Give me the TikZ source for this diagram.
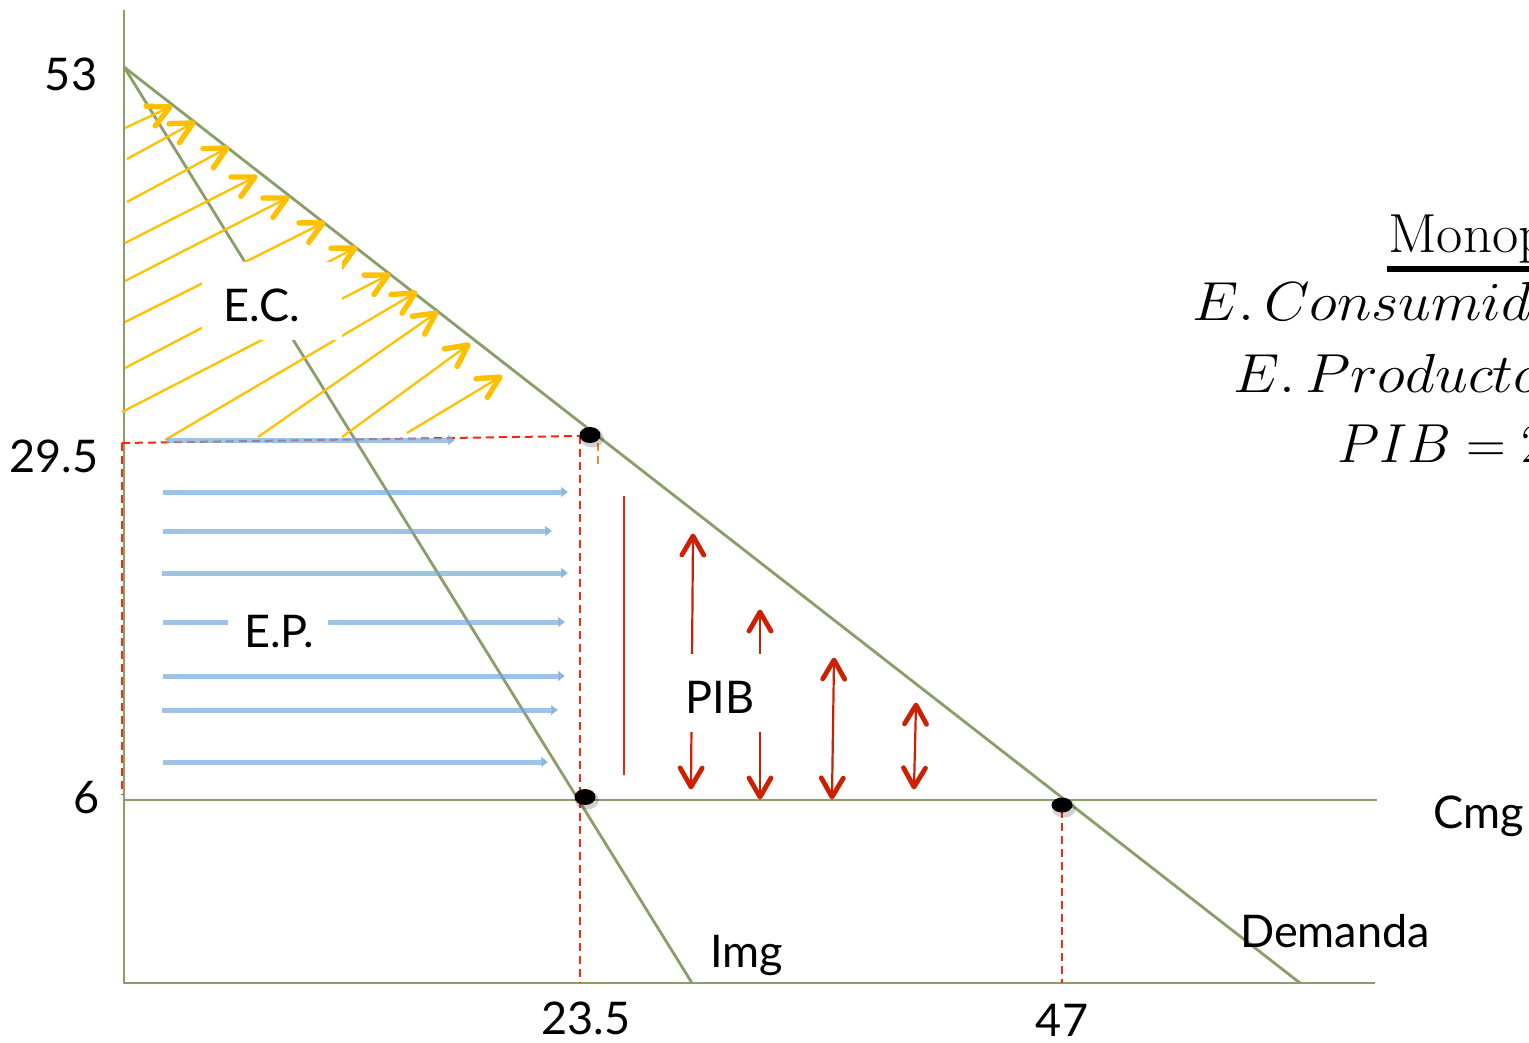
\documentclass[tikz,border=0pt]{standalone}
\usepackage{fix-cm}
\usepackage[no-math]{fontspec}
\newfontfamily\gillfont{Lato}
\usetikzlibrary{arrows.meta,shapes.geometric,calc}
\definecolor{axisgreen}{RGB}{138,158,104}
\definecolor{hatchyellow}{RGB}{255,192,0}
\definecolor{epblue}{RGB}{115,169,219}
\definecolor{guidered}{RGB}{255,40,10}
\definecolor{pibred}{RGB}{204,32,0}
\definecolor{solidred}{RGB}{232,40,20}
\definecolor{tickorange}{RGB}{240,140,40}
\begin{document}
\begin{tikzpicture}[x=1pt,y=-1pt,
  curve/.style={draw=axisgreen,line width=2.8pt},
  guide/.style={draw=guidered,line width=2pt,dash pattern=on 8pt off 5pt},
  hatchline/.style={draw=hatchyellow,line width=2.3pt,shorten >=2pt},
  hatchtip/.style={draw=hatchyellow,line width=5.4pt,line cap=round,line join=round},
  eparrow/.style={draw=epblue,opacity=0.7,line width=5pt,-{Triangle[length=7pt,width=10pt]}},
  pibline/.style={draw=pibred,line width=2.2pt,shorten >=2pt,shorten <=2pt},
  pibtip/.style={draw=pibred,line width=4.8pt,line cap=round,line join=round},
  cover/.style={fill=white,inner sep=0pt,draw=none},
  lab/.style={font={\gillfont\fontsize{45}{54}\selectfont},inner sep=0pt,anchor=base},
  numlab/.style={font={\gillfont\fontsize{45}{54}\selectfont},inner sep=0pt,anchor=base},
  mathlab/.style={font={\fontsize{55}{66}\selectfont},inner sep=0pt,anchor=base west},
  eqdot/.style={ellipse,fill=black,inner sep=0pt,minimum width=21pt,minimum height=16pt},
  dotshadow/.style={ellipse,fill=black,opacity=0.18,inner sep=0pt,minimum width=24pt,minimum height=19pt},
]
\useasboundingbox (0,0) rectangle (1529,1043);
\clip (0,0) rectangle (1529,1043);

% key points
\coordinate (O) at (124,983);
\coordinate (Ytop) at (124,10);
\coordinate (Xend) at (1375,983);
\coordinate (A) at (124,67);
\coordinate (Dend) at (1300,983);
\coordinate (Iend) at (692,983);
\coordinate (C0) at (124,800);
\coordinate (Cend) at (1377,800);
\coordinate (G1) at (122,443);
\coordinate (G2) at (580,436);
\coordinate (G3) at (122,795);
\coordinate (G4) at (580,983);
\coordinate (G5) at (1062,810);
\coordinate (G6) at (1062,983);
\coordinate (T1) at (598,443);
\coordinate (T2) at (598,466);
\coordinate (R1) at (624,496);
\coordinate (R2) at (624,775);

% curves and axes
\draw[curve] (Ytop) -- (O) -- (Xend);
\draw[curve] (C0) -- (Cend);
\draw[curve] (A) -- (Dend);
\draw[curve] (A) -- (Iend);

% guides
\draw[guide] (G1) -- (G2);
\draw[guide] (G1) -- (G3);
\draw[guide] (G2) -- (G4);
\draw[guide] (G5) -- (G6);
\draw[draw=tickorange,line width=1.8pt,dash pattern=on 8pt off 5pt] (T1) -- (T2);
\draw[draw=solidred,line width=2.4pt] (R1) -- (R2);

% consumer surplus hatch
\foreach \ax/\ay/\bx/\by in {125/128/170/107, 127/159/193/123, 127/202/227/148,
  125/243/255/177, 125/281/287/198, 125/322/323/223, 125/368/355/248,
  122/412/388/275, 165/440/415/293, 258/437/436/313, 342/437/468/345, 407/433/500/377}
{
  \draw[hatchline] (\ax,\ay) -- (\bx,\by);
  \draw[hatchtip] ($(\bx,\by)!24pt!27:(\ax,\ay)$) -- (\bx,\by) -- ($(\bx,\by)!24pt!-27:(\ax,\ay)$);
}

% producer surplus arrows
\foreach \ax/\bx/\yy in {167/455/440, 163/568/492, 163/552/531, 162/568/573,
  163/565/622, 163/565/676, 162/558/710, 163/548/762}
  \draw[eparrow] (\ax,\yy) -- (\bx,\yy);

% PIB arrows
\foreach \ax/\ay/\bx/\by in {691/787/693/536, 760/797/760/612, 832/797/834/660, 914/787/916/705}
{
  \draw[pibline] (\ax,\ay) -- (\bx,\by);
  \draw[pibtip] ($(\bx,\by)!22pt!30:(\ax,\ay)$) -- (\bx,\by) -- ($(\bx,\by)!22pt!-30:(\ax,\ay)$);
  \draw[pibtip] ($(\ax,\ay)!22pt!30:(\bx,\by)$) -- (\ax,\ay) -- ($(\ax,\ay)!22pt!-30:(\bx,\by)$);
}

% label backgrounds
\node[cover,minimum width=140pt,minimum height=78pt] (ecbox) at (272,301) {};
\node[cover,minimum width=100pt,minimum height=56pt] (epbox) at (278,624) {};
\node[cover,minimum width=110pt,minimum height=78pt] (pibbox) at (720,693) {};

% labels
\node[lab] (ec) at (262,321) {E.C.};
\node[lab] (ep) at (279,647) {E.P.};
\node[lab] (pib) at (720,713) {PIB};
\node[lab] (img) at (747,967) {Img};
\node[lab] (dem) at (1335,947) {Demanda};
\node[lab] (cmg) at (1479,828) {Cmg};
\node[numlab] (n53) at (71,91) {53};
\node[numlab] (n295) at (54,472) {29.5};
\node[numlab] (n6) at (87,813) {6};
\node[numlab] (n235) at (586,1034) {23.5};
\node[numlab] (n47) at (1062,1036) {47};

% right-hand text (cut by the frame)
\node[mathlab] (mono) at (1388,253) {\scalebox{1.04}[1]{$\mathrm{Monopolio}$}};
\draw[line width=5.5pt] (1387,269) -- (1545,269);
\node[mathlab] (econs) at (1192,320) {\scalebox{1.07}[1]{$E.\,Consumidor$}};
\node[mathlab] (eprod) at (1233,392) {\scalebox{1.07}[1]{$E.\,Productor$}};
\node[mathlab] (pibeq) at (1337,462) {$PIB=2$};

% equilibrium points
\node[dotshadow] at (592,438) {};
\node[eqdot] (m1) at (590,435) {};
\node[dotshadow] at (587,800) {};
\node[eqdot] (m2) at (585,797) {};
\node[dotshadow] at (1064,808) {};
\node[eqdot,minimum height=15pt] (m3) at (1062,805) {};
\end{tikzpicture}
\end{document}
